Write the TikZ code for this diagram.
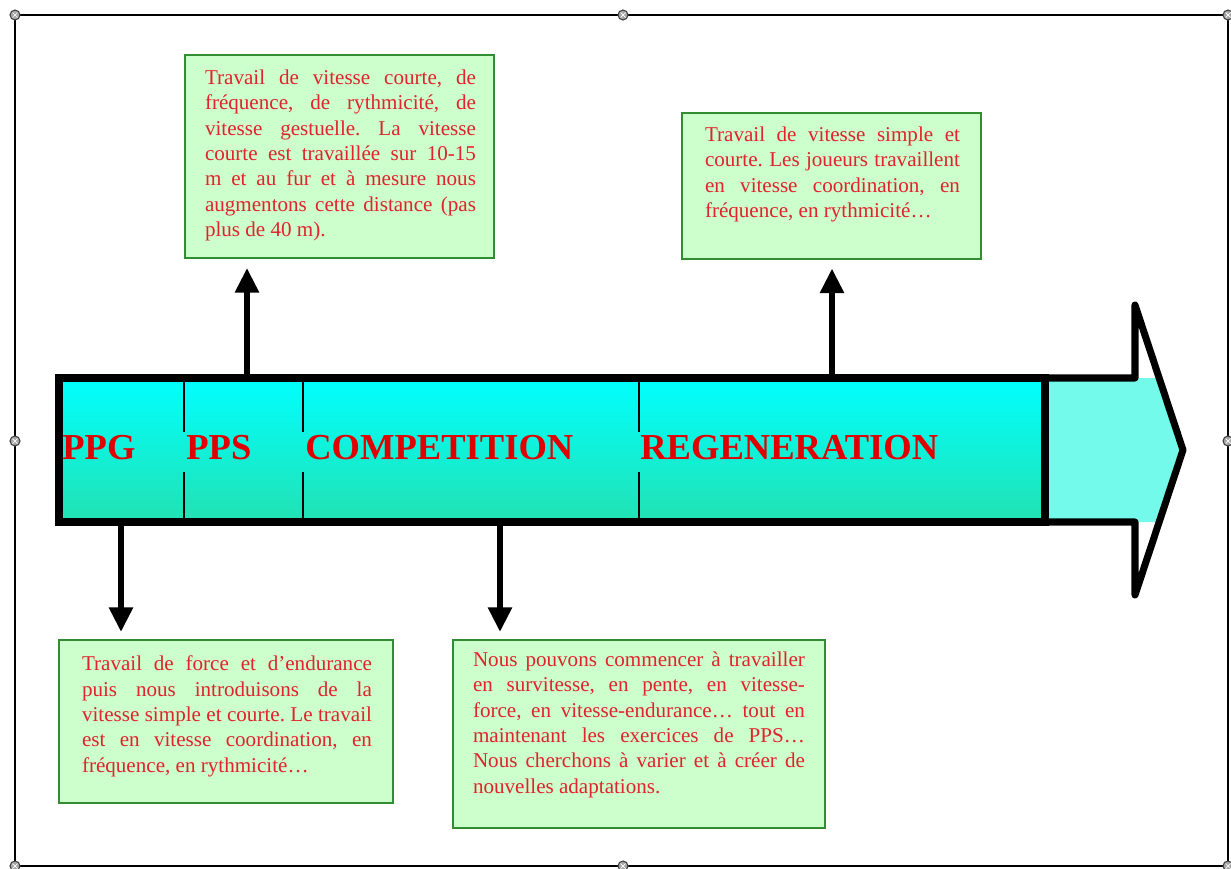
\documentclass[tikz,border=0pt]{standalone}
\usepackage{fontspec}
\setmainfont{Liberation Serif}
\usetikzlibrary{arrows.meta}
\definecolor{boxfill}{RGB}{204,255,204}
\definecolor{boxdraw}{RGB}{50,140,50}
\definecolor{txtred}{RGB}{225,35,45}
\definecolor{lblred}{RGB}{225,0,0}
\definecolor{bodytop}{RGB}{0,255,255}
\definecolor{bodybot}{RGB}{34,226,178}
\definecolor{headfill}{RGB}{115,250,235}
\newcommand\jline[1]{\hbox to \hsize{#1}}
\frenchspacing
\tikzset{
  infobox/.style={draw=boxdraw, line width=1.2pt, fill=boxfill, inner sep=0pt, outer sep=0pt, anchor=north west},
  infotxt/.style={inner sep=0pt, outer sep=0pt, anchor=north west, text=txtred, font=\fontsize{12}{14.4}\selectfont\frenchspacing},
  phase/.style={inner sep=0pt, anchor=base west, text=lblred, font=\fontsize{20.8}{24}\selectfont\bfseries},
  arr/.style={line width=3.4pt, -{Triangle[length=14pt,width=13pt]}},
  divider/.style={line width=0.9pt, black},
  handle/.style={draw=black!75, fill=black!35, line width=0.6pt},
}
\begin{document}
\begin{tikzpicture}[x=0.02cm,y=-0.02cm]
\useasboundingbox (0,0) rectangle (1231,869);
% outer frame
\draw[line width=1.5pt] (15,15) rectangle (1228,866);
\foreach \hx/\hy in {15/15,623/15,1228/15,15/441,1228/441,15/866,623/866,1228/866}{
  \draw[handle] (\hx,\hy) circle[radius=0.1cm];
  \draw[white, line width=0.4pt] (\hx-2.5,\hy-2.5) -- (\hx+2.5,\hy+2.5) (\hx-2.5,\hy+2.5) -- (\hx+2.5,\hy-2.5);
}
% arrow head part
\fill[headfill] (1045,378) -- (1159,378) -- (1183,450) -- (1159,522) -- (1045,522) -- cycle;
\draw[line width=4pt, line join=round] (1045,378) -- (1135,378) -- (1135,305) -- (1183,450) -- (1135,595) -- (1135,522) -- (1045,522);
% body
\shade[top color=bodytop, bottom color=bodybot] (59,378) rectangle (1045,522);
\draw[divider] (184,378) -- (184,432) (184,472) -- (184,522);
\draw[divider] (303,378) -- (303,432) (303,472) -- (303,522);
\draw[divider] (639,378) -- (639,432) (639,472) -- (639,522);
\draw[line width=4pt] (59,378) rectangle (1045,522);
% phase labels
\node[phase] (ppg) at (62,459) {PPG};
\node[phase] (pps) at (186,459) {PPS};
\node[phase] (comp) at (305,459) {COMPETITION};
\node[phase] (regen) at (640,459) {REGENERATION};
% boxes
\node[infobox, minimum width=6.18cm, minimum height=4.06cm] (b1) at (185,55) {};
\node[infobox, minimum width=5.98cm, minimum height=2.92cm] (b2) at (682,113) {};
\node[infobox, minimum width=6.68cm, minimum height=3.26cm] (b3) at (59,640) {};
\node[infobox, minimum width=7.44cm, minimum height=3.76cm] (b4) at (453,640) {};
% texts
\node[infotxt] (t1) at (205,70) {\vbox{\hsize=5.42cm
  \jline{Travail de vitesse courte, de}
  \jline{fréquence, de rythmicité, de}
  \jline{vitesse gestuelle. La vitesse}
  \jline{courte est travaillée sur 10-15}
  \jline{m et au fur et à mesure nous}
  \jline{augmentons cette distance (pas}
  \hbox{plus de 40 m).}}};
\node[infotxt] (t2) at (705,127) {\vbox{\hsize=5.10cm
  \jline{Travail de vitesse simple et}
  \jline{courte. Les joueurs travaillent}
  \jline{en vitesse coordination, en}
  \hbox{fréquence, en rythmicité…}}};
\node[infotxt] (t3) at (82,656) {\vbox{\hsize=5.80cm
  \jline{Travail de force et d’endurance}
  \jline{puis nous introduisons de la}
  \jline{vitesse simple et courte. Le travail}
  \jline{est en vitesse coordination, en}
  \hbox{fréquence, en rythmicité…}}};
\node[infotxt] (t4) at (473,652) {\vbox{\hsize=6.64cm
  \jline{Nous pouvons commencer à travailler}
  \jline{en survitesse, en pente, en vitesse-}
  \jline{force, en vitesse-endurance… tout en}
  \jline{maintenant les exercices de PPS…}
  \jline{Nous cherchons à varier et à créer de}
  \hbox{nouvelles adaptations.}}};
% connectors
\coordinate (s1) at (247,378);
\coordinate (s2) at (832,378);
\coordinate (s3) at (121,522);
\coordinate (s4) at (500,522);
\draw[arr, shorten >=0.2cm] (s1) -- (s1 |- b1.south);
\draw[arr, shorten >=0.19cm] (s2) -- (s2 |- b2.south);
\draw[arr, shorten >=0.16cm] (s3) -- (s3 |- b3.north);
\draw[arr, shorten >=0.16cm] (s4) -- (s4 |- b4.north);
\end{tikzpicture}
\end{document}
